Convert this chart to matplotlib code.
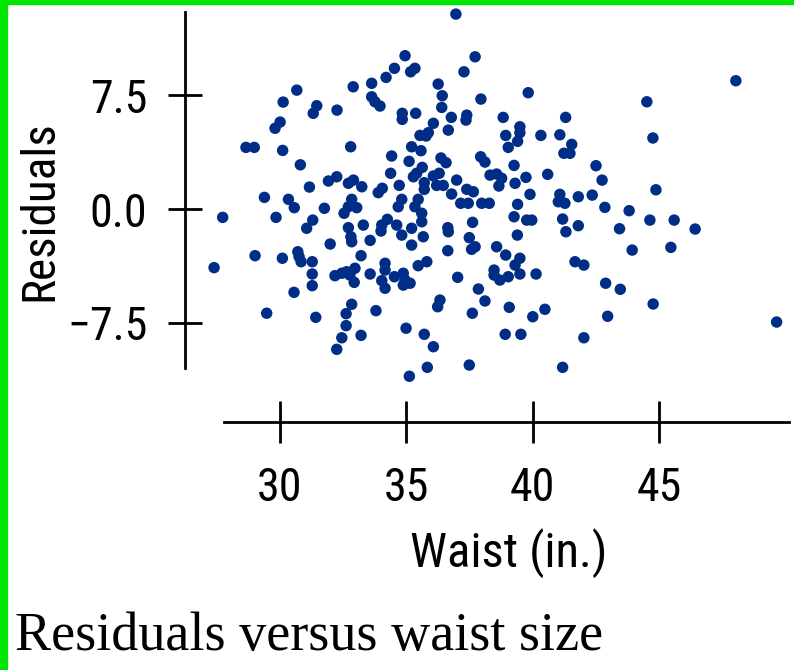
import matplotlib
matplotlib.use("Agg")
import matplotlib.pyplot as plt
from matplotlib import font_manager
from matplotlib.patches import Rectangle

# ---------------- data ----------------
waist = [
    32.90, 33.63, 34.20, 30.67, 30.13, 31.46, 31.32, 32.26, 33.63, 33.76,
    33.96, 30.01, 29.81, 28.66, 28.99, 30.11, 32.80, 30.81, 34.38, 31.92,
    32.25, 31.17, 32.71, 32.91, 33.24, 33.89, 34.05, 29.39, 30.34, 32.84,
    34.42, 34.53, 36.96, 34.95, 35.17, 35.34, 37.72, 37.28, 36.26, 36.42,
    37.95, 39.82, 36.40, 34.84, 34.84, 35.37, 36.78, 37.39, 37.36, 38.83,
    41.30, 36.07, 36.66, 39.49, 39.49, 38.93, 39.40, 40.32, 41.07, 41.54,
    41.23, 41.47, 35.54, 35.87, 35.78, 39.03, 35.21, 35.58, 35.11, 36.37,
    36.57, 37.94, 38.11, 39.26, 35.63, 35.41, 35.28, 36.07, 36.30, 36.99,
    38.31, 38.57, 38.77, 39.73, 40.59, 34.72, 35.71, 35.71, 36.20, 36.46,
    37.39, 37.65, 38.66, 39.30, 36.79, 39.89, 41.07, 41.80, 34.82, 35.47,
    48.03, 44.51, 44.75, 42.50, 42.74, 42.35, 44.87, 30.57, 27.74, 29.85,
    31.76, 32.71, 33.04, 32.54, 31.30, 31.06, 32.71, 33.30, 34.03, 34.25,
    34.00, 32.81, 32.84, 33.57, 31.99, 29.02, 30.10, 30.71, 30.76, 30.84,
    31.28, 31.28, 31.28, 33.21, 34.16, 34.16, 34.53, 34.03, 34.16, 27.40,
    32.18, 32.45, 32.64, 32.77, 32.97, 32.94, 33.57, 30.56, 29.48, 31.42,
    32.84, 32.62, 32.62, 33.80, 32.45, 33.21, 32.25, 34.68, 35.34, 35.61,
    35.61, 37.15, 37.45, 37.98, 38.28, 39.40, 39.26, 39.76, 39.96, 41.01,
    41.27, 41.18, 41.31, 41.80, 34.62, 34.82, 35.21, 35.67, 35.21, 36.64,
    36.66, 36.64, 37.62, 37.49, 37.72, 37.58, 39.39, 38.57, 38.93, 39.49,
    39.30, 39.49, 40.13, 38.47, 38.47, 38.70, 39.03, 41.67, 42.02, 35.81,
    35.47, 34.88, 34.95, 34.88, 35.15, 37.03, 37.85, 38.11, 36.33, 36.24,
    37.61, 39.07, 40.00, 40.48, 34.99, 35.71, 36.07, 38.91, 39.53, 42.02,
    35.83, 37.49, 41.18, 35.12, 42.85, 43.81, 44.63, 45.59, 46.42, 43.43,
    43.93, 45.46, 42.88, 43.46, 44.76, 42.96, 49.64,
]
residuals = [
    8.07, 8.30, 8.69, 7.85, 7.06, 6.82, 6.32, 6.53, 7.41, 7.08,
    6.80, 5.74, 5.33, 4.07, 4.07, 3.87, 4.11, 2.92, 2.36, 1.85,
    2.13, 1.45, 1.70, 1.91, 1.47, 1.08, 1.37, 0.77, 0.64, 0.64,
    3.50, 9.29, 12.87, 10.12, 9.06, 9.29, 10.05, 9.06, 8.25, 7.48,
    7.26, 7.68, 6.71, 6.32, 5.92, 6.32, 6.05, 6.20, 5.87, 6.05,
    6.05, 5.66, 5.21, 5.43, 5.04, 4.86, 4.47, 4.86, 4.90, 4.27,
    3.68, 3.68, 4.86, 5.04, 4.82, 4.07, 4.11, 3.85, 3.15, 3.37,
    3.06, 3.45, 3.10, 2.88, 2.75, 2.36, 2.13, 2.18, 2.36, 1.91,
    2.24, 2.31, 2.03, 2.09, 2.29, 1.56, 1.74, 1.30, 1.56, 1.56,
    1.30, 1.14, 1.52, 1.70, 0.99, 0.97, 0.97, 0.81, 0.64, 0.64,
    8.47, 7.08, 4.69, 2.86, 1.91, 0.92, 1.27, 0.09, -0.55, -0.55,
    0.05, 0.15, 0.09, -0.28, -0.73, -1.27, -1.23, -1.06, -1.06, -0.68,
    -1.45, -1.83, -2.16, -2.07, -2.31, -3.08, -3.25, -2.82, -3.15, -3.48,
    -3.48, -4.29, -5.06, -3.08, -3.58, -4.03, -4.47, -4.73, -5.23, -3.87,
    -4.40, -4.24, -4.14, -4.36, -3.91, -4.84, -4.29, -5.50, -6.88, -7.15,
    -6.29, -6.91, -7.70, -6.71, -8.50, -8.34, -9.26, 0.15, 0.15, -0.28,
    -0.84, 0.38, 0.38, 0.38, 0.38, 0.31, -0.51, -0.73, -0.73, 0.48,
    0.38, -0.66, -1.50, -1.10, -1.06, -1.72, -1.27, -1.83, -2.38, -1.23,
    -1.50, -2.75, -0.88, -1.89, -2.49, -2.66, -1.72, -2.49, -3.04, -3.25,
    -3.70, -4.29, -4.29, -4.03, -4.36, -4.69, -4.47, -3.48, -3.70, -3.48,
    -3.74, -4.24, -4.69, -5.02, -4.90, -4.51, -5.28, -6.07, -6.01, -6.45,
    -6.88, -6.49, -7.11, -6.62, -7.87, -8.27, -9.09, -8.27, -8.27, -8.50,
    -10.45, -10.30, -10.45, -11.04, 0.11, -0.11, -0.73, -0.73, -1.32, -1.30,
    -2.71, -2.53, -4.90, -5.30, -6.27, -7.08, -7.46,
]
x_ticks = [30, 35, 40, 45]
x_tick_labels = ["30", "35", "40", "45"]
y_ticks = [-7.5, 0.0, 7.5]
y_tick_labels = ["\u22127.5", "0.0", "7.5"]
x_label = "Waist (in.)"
y_label = "Residuals"
caption = "Residuals versus waist size"

# ---------------- fonts ----------------
entries = font_manager.fontManager.ttflist
names = {f.name for f in entries}
sans, stretch, narrow = "Liberation Sans", "normal", False
for cand in ["Liberation Sans Narrow", "Arial Narrow", "Nimbus Sans Narrow",
             "Roboto Condensed", "Open Sans Condensed", "DejaVu Sans Condensed"]:
    if cand in names:
        sans, narrow = cand, True
        break
if not narrow:
    for fam in ["Roboto", "Open Sans", "DejaVu Sans", "Noto Sans"]:
        if any(f.name == fam and str(f.stretch) in ("condensed", "semi-condensed", "75", "87.5")
               for f in entries):
            sans, stretch, narrow = fam, "condensed", True
            break
# sizes: narrow fonts can match height; regular fonts are shrunk to keep widths
tick_fs = 33 if narrow else 29
xlab_fs = 35 if narrow else 31
ylab_fs = 34 if narrow else 30

serif = "Liberation Serif"
dot_color = "#002E86"
W, H = 794, 670

fig = plt.figure(figsize=(W / 100, H / 100), dpi=100)
fig.patch.set_facecolor("white")

# green frame strips (top and left)
fig.patches.append(Rectangle((0, 0), 7 / W, 1, transform=fig.transFigure,
                             color="#00E600", zorder=10))
fig.patches.append(Rectangle((0, 1 - 4 / H), 1, 4 / H, transform=fig.transFigure,
                             color="#00E600", zorder=10))

ax = fig.add_axes([185 / W, (H - 422) / H, (790 - 185) / W, 422 / H])
ax.set_facecolor("none")
ax.scatter(waist, residuals, s=68, color=dot_color, edgecolors="none",
           zorder=3, clip_on=False)

ax.set_xlim(26.25, 50.17)
ax.set_ylim(-14.06, 13.80)
for side in ("top", "right"):
    ax.spines[side].set_visible(False)
ax.spines["left"].set_bounds(-10.5, 13.0)
ax.spines["bottom"].set_bounds(27.78, 50.13)
for side in ("left", "bottom"):
    ax.spines[side].set_linewidth(2.0)
    ax.spines[side].set_color("black")

tick_font = dict(fontsize=tick_fs, family=sans, fontstretch=stretch)
ax.set_xticks(x_ticks)
ax.set_xticklabels(x_tick_labels, **tick_font)
ax.set_yticks(y_ticks)
ax.set_yticklabels(y_tick_labels, **tick_font)
ax.tick_params(axis="x", direction="inout", length=30, width=2.0, pad=17)
ax.tick_params(axis="y", direction="inout", length=24, width=2.0, pad=15)

ax.set_xlabel(x_label, fontsize=xlab_fs, family=sans, fontstretch=stretch)
ax.xaxis.set_label_coords(0.535, -0.252)
ax.set_ylabel(y_label, fontsize=ylab_fs, family=sans, fontstretch=stretch)
ax.yaxis.set_label_coords(-0.205, 0.502)

fig.text(15 / W, 1 - 650 / H, caption, family=serif, fontsize=39,
         ha="left", va="baseline", color="black")

fig.savefig("out.png", dpi=100)
